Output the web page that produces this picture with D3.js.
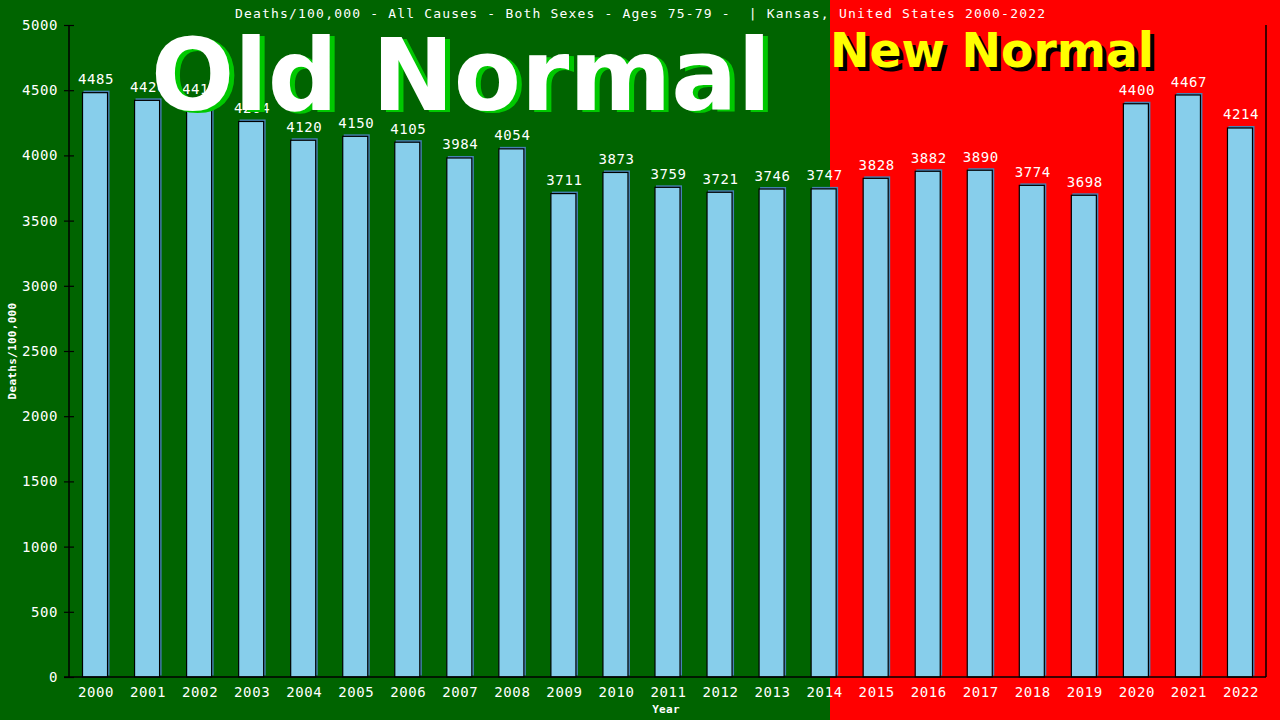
<!DOCTYPE html>
<html>
<head>
<meta charset="utf-8">
<script src="https://cdn.jsdelivr.net/npm/d3@7"></script>
<style>
  body { margin: 0; background: #000; }
  svg text { font-family: "DejaVu Sans Mono", monospace; }
  svg text.banner { font-family: "DejaVu Sans", sans-serif; font-weight: bold; }
</style>
</head>
<body>
<svg id="chart" width="1280" height="720"></svg>
<script>
// data
const years = ["2000", "2001", "2002", "2003", "2004", "2005", "2006", "2007", "2008", "2009", "2010", "2011",
  "2012", "2013", "2014", "2015", "2016", "2017", "2018", "2019", "2020", "2021", "2022"];
const deaths = [4485, 4426, 4413, 4264, 4120, 4150, 4105, 3984, 4054, 3711, 3873, 3759,
  3721, 3746, 3747, 3828, 3882, 3890, 3774, 3698, 4400, 4467, 4214];
const yTicks = [0, 500, 1000, 1500, 2000, 2500, 3000, 3500, 4000, 4500, 5000];
const titleText = "Deaths/100,000 - All Causes - Both Sexes - Ages 75-79 -  | Kansas, United States 2000-2022";

const svg = d3.select("#chart");
const W = 1280, H = 720;
const plot = {left: 69, right: 1266, top: 25, bottom: 677};
const splitX = 830; // where the "new normal" red starts

const x = d3.scaleBand()
  .domain(years)
  .range([plot.left, plot.right])
  .paddingInner(0.5)
  .paddingOuter(0.25);

const y = d3.scaleLinear()
  .domain([0, 5000])
  .range([plot.bottom, plot.top]);

// backgrounds
svg.append("rect").attr("x", 0).attr("y", 0).attr("width", splitX).attr("height", H).attr("fill", "#006400");
svg.append("rect").attr("x", splitX).attr("y", 0).attr("width", W - splitX).attr("height", H).attr("fill", "#ff0000");

const rows = years.map((yr, i) => ({year: yr, value: deaths[i]}));

// bar shadow then the bar itself
svg.append("g").selectAll("rect")
  .data(rows)
  .join("rect")
  .attr("x", d => x(d.year) + 1.5)
  .attr("y", d => y(d.value) - 1.5)
  .attr("width", x.bandwidth())
  .attr("height", d => plot.bottom - y(d.value))
  .attr("fill", "#4682b4");

svg.append("g").selectAll("rect")
  .data(rows)
  .join("rect")
  .attr("x", d => x(d.year) + 0.5)
  .attr("y", d => y(d.value) + 0.5)
  .attr("width", x.bandwidth() - 1)
  .attr("height", d => plot.bottom - y(d.value) - 0.5)
  .attr("fill", "#87ceeb")
  .attr("stroke", "#000")
  .attr("stroke-width", 1.2);

// value labels
svg.append("g").selectAll("text")
  .data(rows)
  .join("text")
  .attr("x", d => x(d.year) + x.bandwidth() / 2 + 1)
  .attr("y", d => y(d.value) - 8)
  .attr("text-anchor", "middle")
  .attr("fill", "#fff")
  .attr("font-size", 14)
  .attr("letter-spacing", 0.6)
  .text(d => d.value);

// axes
const yAxis = svg.append("g")
  .attr("transform", `translate(${plot.left},0)`)
  .call(d3.axisLeft(y).tickValues(yTicks).tickSize(0).tickPadding(11).tickFormat(d3.format("d")));
yAxis.select(".domain").remove();
yAxis.selectAll(".tick line").remove();
yAxis.selectAll(".tick").append("line")
  .attr("x1", -5).attr("x2", 5).attr("stroke", "#000").attr("stroke-width", 1.2);
yAxis.selectAll("text")
  .attr("fill", "#fff")
  .attr("font-size", 14)
  .attr("letter-spacing", 0.6)
  .attr("font-family", "DejaVu Sans Mono, monospace");

const xAxis = svg.append("g")
  .attr("transform", `translate(0,${plot.bottom})`)
  .call(d3.axisBottom(x).tickSize(0).tickPadding(10));
xAxis.select(".domain").remove();
xAxis.selectAll("text")
  .attr("fill", "#fff")
  .attr("font-size", 14)
  .attr("letter-spacing", 0.6)
  .attr("dx", 1)
  .attr("font-family", "DejaVu Sans Mono, monospace");

// frame lines: left axis, bottom axis, right border
svg.append("line").attr("x1", plot.left).attr("x2", plot.left).attr("y1", plot.top).attr("y2", plot.bottom)
  .attr("stroke", "#000").attr("stroke-width", 1.5);
svg.append("line").attr("x1", plot.left - 5).attr("x2", plot.right).attr("y1", plot.bottom).attr("y2", plot.bottom)
  .attr("stroke", "#000").attr("stroke-width", 1.5);
svg.append("line").attr("x1", plot.right).attr("x2", plot.right).attr("y1", plot.top).attr("y2", plot.bottom)
  .attr("stroke", "#000").attr("stroke-width", 1.5);

// axis titles
svg.append("text")
  .attr("transform", "translate(16,351) rotate(-90)")
  .attr("text-anchor", "middle")
  .attr("fill", "#fff")
  .attr("font-size", 11)
  .attr("font-weight", "bold")
  .attr("letter-spacing", 0.3)
  .text("Deaths/100,000");

svg.append("text")
  .attr("x", 666)
  .attr("y", 713)
  .attr("text-anchor", "middle")
  .attr("fill", "#fff")
  .attr("font-size", 11)
  .attr("font-weight", "bold")
  .attr("letter-spacing", 0.3)
  .text("Year");

// big banners, drawn over the bars as in the original
const banner = svg.append("g");
banner.append("text").attr("class", "banner").attr("x", 156).attr("y", 112).attr("font-size", 99)
  .attr("textLength", 620).attr("lengthAdjust", "spacingAndGlyphs")
  .attr("fill", "#00c800").text("Old Normal");
banner.append("text").attr("class", "banner").attr("x", 151).attr("y", 110).attr("font-size", 99)
  .attr("textLength", 620).attr("lengthAdjust", "spacingAndGlyphs")
  .attr("fill", "#fff").text("Old Normal");

banner.append("text").attr("class", "banner").attr("x", 834).attr("y", 71).attr("font-size", 48)
  .attr("textLength", 324).attr("lengthAdjust", "spacingAndGlyphs")
  .attr("fill", "#000").text("New Normal");
banner.append("text").attr("class", "banner").attr("x", 830).attr("y", 67).attr("font-size", 48)
  .attr("textLength", 324).attr("lengthAdjust", "spacingAndGlyphs")
  .attr("fill", "#ffff00").text("New Normal");

// title (keep the double space before the bar)
svg.append("text")
  .attr("x", 640)
  .attr("y", 18)
  .attr("text-anchor", "middle")
  .attr("fill", "#fff")
  .attr("font-size", 13)
  .style("white-space", "pre")
  .attr("textLength", 810)
  .attr("lengthAdjust", "spacing")
  .text(titleText);
</script>
</body>
</html>
